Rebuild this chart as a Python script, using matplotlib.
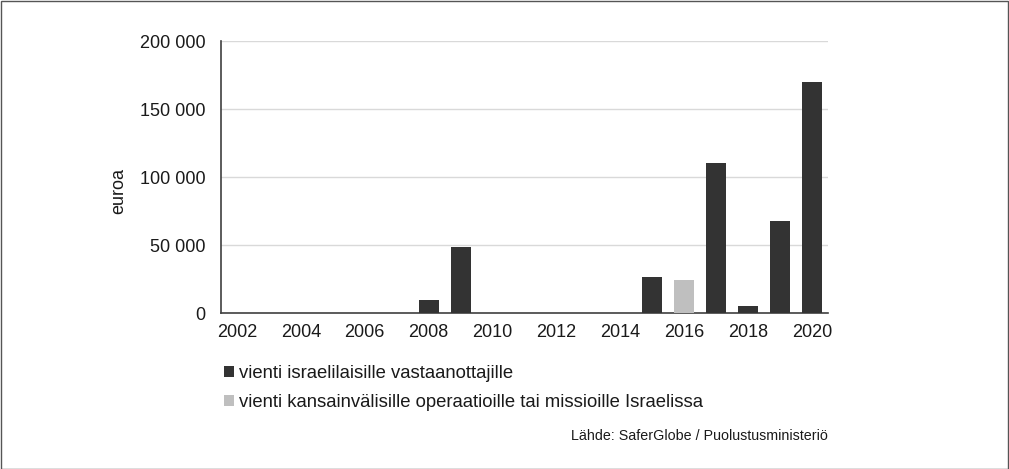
import matplotlib
matplotlib.use("Agg")
import matplotlib.pyplot as plt
from matplotlib.patches import Rectangle

plt.rcParams['font.family'] = ['Liberation Sans', 'DejaVu Sans']

years = list(range(2002, 2021))
israeli = [0, 0, 0, 0, 0, 0, 9500, 48500, 0, 0, 0, 0, 0, 26500, 0, 110000, 5000, 68000, 170000]
missions = [0, 0, 0, 0, 0, 0, 0, 0, 0, 0, 0, 0, 0, 0, 24500, 0, 0, 0, 0]
series_labels = ["vienti israelilaisille vastaanottajille",
                 "vienti kansainvälisille operaatioille tai missioille Israelissa"]
yticks = [0, 50000, 100000, 150000, 200000]
ytick_labels = ["0", "50 000", "100 000", "150 000", "200 000"]
xtick_labels = [str(y) if y % 2 == 0 else "" for y in years]

dark = "#333333"
light = "#bfbfbf"
txt = "#1a1a1a"

fig = plt.figure(figsize=(10.09, 4.69), dpi=100)
W, H = 1009, 469
ax = fig.add_axes([221 / W, 1 - 313 / H, (828 - 221) / W, (313 - 41) / H])

x = list(range(len(years)))
ax.bar(x, israeli, width=0.62, color=dark, label=series_labels[0], zorder=3)
ax.bar(x, missions, width=0.62, color=light, label=series_labels[1], zorder=3)

ax.set_xlim(-0.5, len(years) - 0.5)
ax.set_ylim(0, 200000)
ax.set_yticks(yticks)
ax.set_yticklabels(ytick_labels, fontsize=13, color=txt)
ax.set_xticks(x)
ax.set_xticklabels(xtick_labels, fontsize=13, color=txt)
ax.tick_params(axis='x', length=0, pad=8)
ax.tick_params(axis='y', length=0, pad=11)
ax.grid(axis='y', color="#d9d9d9", linewidth=1, zorder=0)
for s in ['top', 'right']:
    ax.spines[s].set_visible(False)
for s in ['left', 'bottom']:
    ax.spines[s].set_color("#404040")
    ax.spines[s].set_linewidth(1.2)
fig.text(119 / W, 1 - 191 / H, "euroa", fontsize=13, color=txt,
         rotation=90, ha='center', va='center')

leg = fig.legend(loc='upper left', bbox_to_anchor=(224 / W, 1 - 365 / H),
                 frameon=False, fontsize=13.3, handlelength=0.55, handleheight=0.55,
                 handletextpad=0.25, labelspacing=0.66, borderaxespad=0,
                 borderpad=0)
for t in leg.get_texts():
    t.set_color(txt)

fig.text(571 / W, 1 - 436 / H, "Lähde: SaferGlobe / Puolustusministeriö",
         fontsize=10.3, color=txt, va='center', ha='left')

fig.patches.append(Rectangle((0.5 / W, 0.5 / H), 1 - 1.5 / W, 1 - 1.5 / H,
                             transform=fig.transFigure, fill=False,
                             edgecolor="#555555", linewidth=1))

fig.savefig("out.png", dpi=100)
